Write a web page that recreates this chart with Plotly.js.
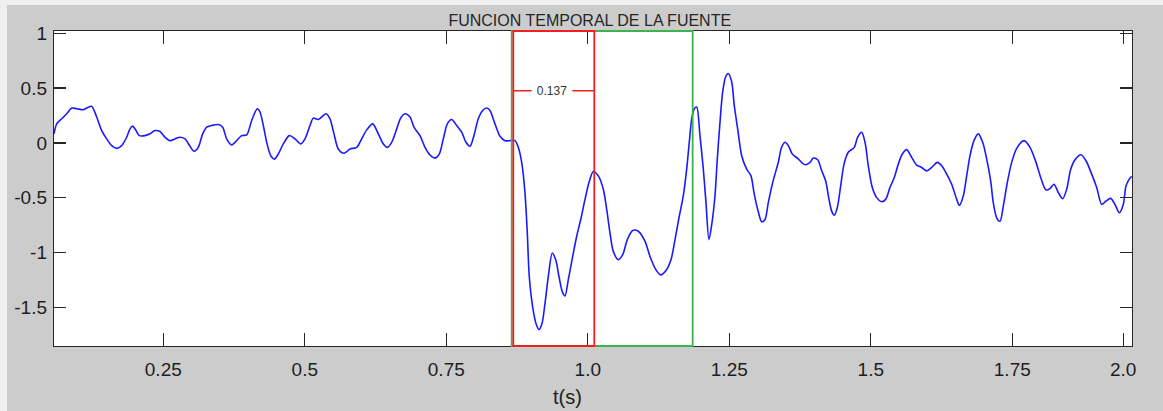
<!DOCTYPE html>
<html>
<head>
<meta charset="utf-8">
<script src="https://cdn.plot.ly/plotly-3.0.1.min.js"></script>
<style>
  html, body { margin: 0; padding: 0; background: #f0f0f0; width: 1163px; height: 411px; overflow: hidden; }
  #chart { position: absolute; left: 7px; top: 5px; width: 1156px; height: 406px; }
</style>
</head>
<body>
<div id="chart"></div>
<script>
// ---- data ----
const t = [
0.0569,0.0617,0.0705,0.0793,0.0882,0.0970,0.1087,0.1147,0.1235,0.1323,0.1412,0.1500,0.1588,0.1677,0.1765,0.1853,
0.1912,0.1959,0.2018,0.2076,0.2177,0.2265,0.2353,0.2442,0.2530,0.2618,0.2707,0.2795,0.2883,0.2972,0.3042,0.3118,
0.3196,0.3267,0.3355,0.3472,0.3549,0.3620,0.3708,0.3767,0.3885,0.3973,0.4062,0.4161,0.4208,0.4267,0.4327,0.4398,
0.4461,0.4532,0.4620,0.4726,0.4827,0.4928,0.5004,0.5092,0.5150,0.5239,0.5375,0.5445,0.5516,0.5592,0.5693,0.5799,
0.5917,0.6005,0.6094,0.6200,0.6299,0.6387,0.6458,0.6535,0.6624,0.6694,0.6770,0.6859,0.6929,0.7035,0.7124,0.7212,
0.7300,0.7376,0.7447,0.7518,0.7595,0.7684,0.7772,0.7848,0.7919,0.7989,0.8065,0.8143,0.8214,0.8272,0.8360,0.8449,
0.8537,0.8625,0.8714,0.8772,0.8832,0.8890,0.8931,0.8966,0.9026,0.9085,0.9138,0.9191,0.9244,0.9302,0.9373,0.9433,
0.9491,0.9549,0.9597,0.9655,0.9733,0.9804,0.9875,0.9951,1.0021,1.0097,1.0186,1.0274,1.0334,1.0392,1.0451,1.0539,
1.0617,1.0698,1.0793,1.0892,1.1011,1.1099,1.1205,1.1288,1.1382,1.1470,1.1541,1.1617,1.1687,1.1747,1.1793,1.1836,
1.1882,1.1924,1.1982,1.2041,1.2088,1.2141,1.2194,1.2247,1.2288,1.2336,1.2383,1.2436,1.2482,1.2542,1.2588,1.2648,
1.2719,1.2807,1.2883,1.2936,1.3002,1.3072,1.3131,1.3189,1.3267,1.3373,1.3414,1.3484,1.3543,1.3613,1.3708,1.3837,
1.3926,1.3984,1.4062,1.4133,1.4203,1.4262,1.4309,1.4355,1.4408,1.4468,1.4527,1.4602,1.4708,1.4768,1.4839,1.4898,
1.4956,1.5027,1.5104,1.5193,1.5263,1.5339,1.5415,1.5486,1.5557,1.5634,1.5723,1.5811,1.5899,1.5988,1.6076,1.6175,
1.6253,1.6341,1.6429,1.6518,1.6564,1.6634,1.6694,1.6753,1.6823,1.6899,1.6977,1.7048,1.7118,1.7164,1.7224,1.7283,
1.7341,1.7412,1.7489,1.7578,1.7707,1.7813,1.7919,1.8002,1.8095,1.8166,1.8237,1.8313,1.8390,1.8461,1.8532,1.8608,
1.8714,1.8802,1.8903,1.8991,1.9080,1.9156,1.9239,1.9314,1.9391,1.9461,1.9509,1.9567,1.9610
];
const amplitude = [
0.083,0.174,0.22,0.266,0.318,0.312,0.303,0.318,0.333,0.236,0.113,0.037,-0.024,-0.049,-0.024,0.052,
0.128,0.153,0.113,0.067,0.067,0.083,0.113,0.104,0.052,0.021,0.037,0.052,0.037,-0.03,-0.076,-0.04,
0.083,0.144,0.159,0.168,0.144,0.037,-0.018,0.006,0.067,0.073,0.205,0.312,0.282,0.159,0.006,-0.116,
-0.147,-0.101,-0.009,0.067,0.037,-0.009,0.037,0.159,0.226,0.214,0.266,0.22,0.083,-0.055,-0.094,-0.055,
-0.04,0.037,0.119,0.174,0.083,-0.009,-0.04,0.006,0.128,0.226,0.266,0.236,0.144,0.067,-0.04,-0.11,
-0.138,-0.101,0.037,0.174,0.214,0.159,0.098,0.006,-0.03,0.067,0.22,0.296,0.318,0.296,0.174,0.061,
0.021,0.021,0.021,-0.04,-0.177,-0.452,-0.819,-1.217,-1.493,-1.645,-1.70,-1.645,-1.462,-1.217,-1.003,-1.064,
-1.217,-1.355,-1.394,-1.248,-1.034,-0.85,-0.697,-0.514,-0.361,-0.26,-0.30,-0.422,-0.606,-0.819,-0.988,-1.064,
-1.018,-0.881,-0.798,-0.804,-0.896,-1.034,-1.156,-1.202,-1.162,-1.064,-0.881,-0.667,-0.483,-0.239,0.006,0.22,
0.312,0.327,0.067,-0.239,-0.544,-0.881,-0.728,-0.483,-0.147,0.19,0.465,0.603,0.633,0.557,0.342,0.128,
-0.116,-0.239,-0.30,-0.452,-0.606,-0.718,-0.697,-0.544,-0.361,-0.162,-0.055,0.006,-0.024,-0.101,-0.141,-0.199,
-0.177,-0.138,-0.153,-0.254,-0.346,-0.514,-0.621,-0.658,-0.59,-0.392,-0.193,-0.085,-0.04,0.052,0.098,0.006,
-0.208,-0.406,-0.498,-0.535,-0.514,-0.406,-0.315,-0.193,-0.101,-0.061,-0.131,-0.202,-0.223,-0.254,-0.223,-0.177,
-0.208,-0.284,-0.376,-0.514,-0.569,-0.483,-0.30,-0.116,0.021,0.083,0.006,-0.147,-0.346,-0.544,-0.682,-0.713,
-0.575,-0.361,-0.177,-0.049,0.021,-0.04,-0.177,-0.315,-0.428,-0.416,-0.376,-0.452,-0.508,-0.422,-0.239,-0.153,
-0.107,-0.162,-0.284,-0.406,-0.56,-0.529,-0.505,-0.56,-0.636,-0.56,-0.392,-0.33,-0.305
];
const xTickValues = [0.25, 0.5, 0.75, 1.0, 1.25, 1.5, 1.75, 1.946];
const xTickLabels = ["0.25", "0.5", "0.75", "1.0", "1.25", "1.5", "1.75", "2.0"];
const yTickValues = [-1.5, -1, -0.5, 0, 0.5, 1];
const yTickLabels = ["-1.5", "-1", "-0.5", "0", "0.5", "1"];
const redWindow = [0.8684, 1.0115];
const greenWindow = [0.8656, 1.1853];
const measureLevel = 0.475;
const measureLabel = "0.137";
const titleText = "FUNCION TEMPORAL DE LA FUENTE";
const xLabelText = "t(s)";

// ---- chart ----
const FONT = '"Liberation Sans", Arial, sans-serif';
const INK = '#1e1e1e';

const trace = {
  x: t, y: amplitude, type: 'scatter', mode: 'lines',
  line: { color: '#1a1aff', width: 1.6, shape: 'spline', smoothing: 0.8 },
  hoverinfo: 'skip'
};

const axisCommon = {
  showgrid: false, zeroline: false, showline: true, linecolor: '#262626', linewidth: 1.2,
  mirror: 'ticks', ticks: 'inside', tickcolor: '#262626', tickwidth: 1.3,
  tickfont: { family: FONT, size: 19, color: INK }, fixedrange: true
};

const layout = {
  width: 1156, height: 406,
  paper_bgcolor: '#cccccc', plot_bgcolor: '#ffffff',
  margin: { l: 47, r: 31, t: 26, b: 65 },
  showlegend: false,
  title: {
    text: titleText, font: { family: FONT, size: 16, color: '#262626' },
    xref: 'paper', x: 0.497, xanchor: 'center',
    yref: 'container', y: 1 - 15 / 406, yanchor: 'middle'
  },
  xaxis: Object.assign({}, axisCommon, {
    range: [0.0569, 1.9615], tickvals: xTickValues, ticktext: xTickLabels,
    ticklen: 13, ticklabelstandoff: 6
  }),
  yaxis: Object.assign({}, axisCommon, {
    range: [-1.85, 1.02], tickvals: yTickValues, ticktext: yTickLabels,
    ticklen: 12, ticklabelstandoff: 2
  }),
  shapes: [
    { type: 'rect', xref: 'x', yref: 'paper', x0: greenWindow[0], x1: greenWindow[1], y0: 0, y1: 1,
      line: { color: '#3cb44b', width: 1.8 }, layer: 'above' },
    { type: 'rect', xref: 'x', yref: 'paper', x0: redWindow[0], x1: redWindow[1], y0: 0, y1: 1,
      line: { color: '#f01e1e', width: 1.8 }, layer: 'above' },
    { type: 'line', xref: 'x', yref: 'y', x0: redWindow[0], x1: redWindow[1], y0: measureLevel, y1: measureLevel,
      line: { color: '#f01e1e', width: 1.6 }, layer: 'above' }
  ],
  annotations: [
    { xref: 'x', yref: 'y', x: 0.9362, y: measureLevel, text: measureLabel, showarrow: false,
      font: { family: FONT, size: 12, color: '#333333' }, bgcolor: '#ffffff', width: 40, borderpad: 0,
      xanchor: 'center', yanchor: 'middle' },
    { xref: 'paper', yref: 'paper', x: 0.4768, y: -0.161, text: xLabelText, showarrow: false,
      font: { family: FONT, size: 20, color: INK }, xanchor: 'center', yanchor: 'middle' }
  ]
};

Plotly.newPlot('chart', [trace], layout, { displayModeBar: false, staticPlot: true });
</script>
</body>
</html>
